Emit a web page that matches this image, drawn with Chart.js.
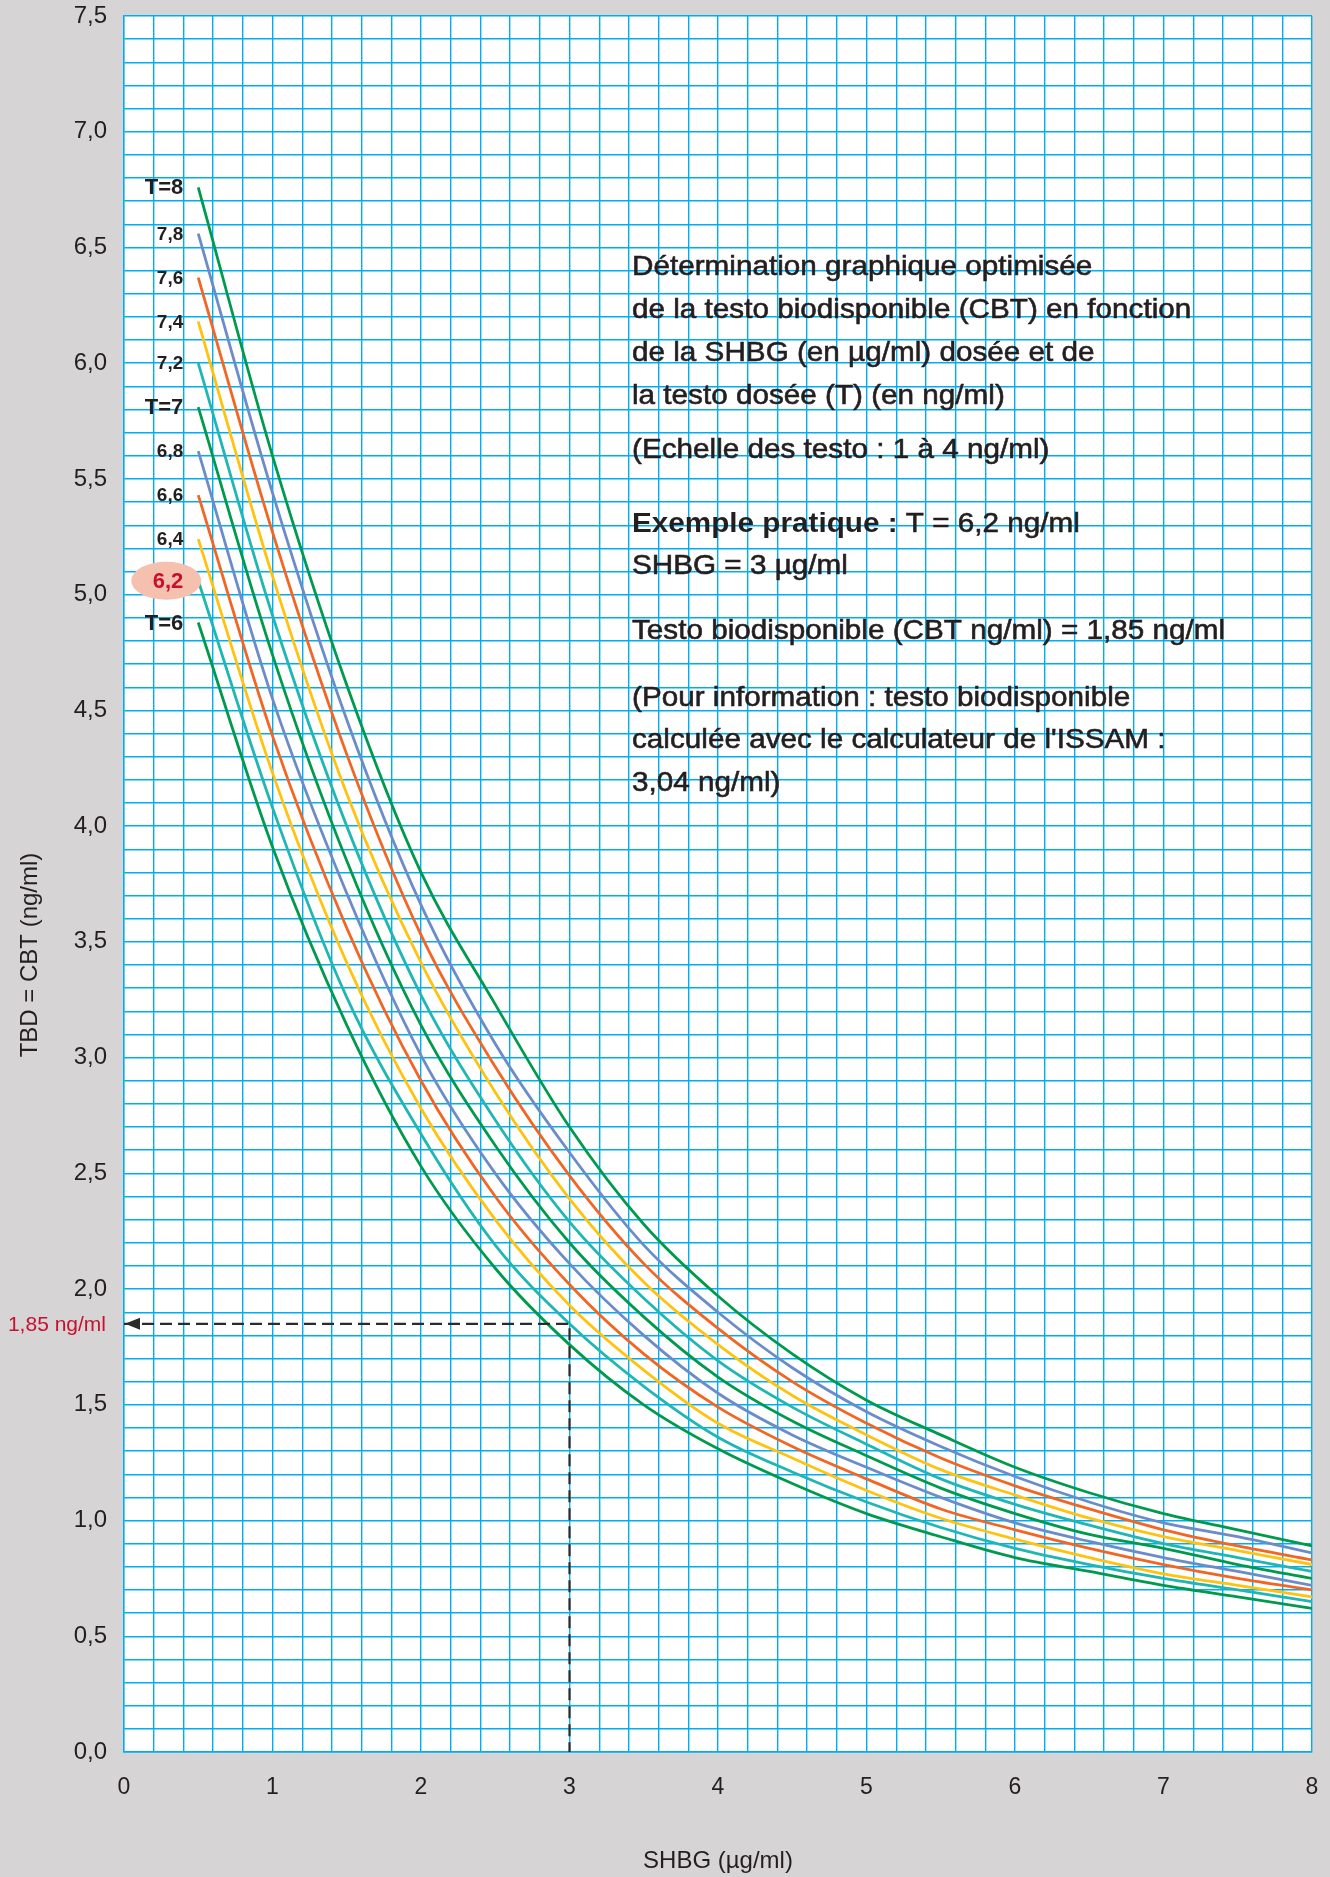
<!DOCTYPE html>
<html lang="fr">
<head>
    <meta charset="UTF-8">
    <title>Testo biodisponible en fonction de la SHBG</title>
    <script src="https://cdn.jsdelivr.net/npm/chart.js@4.4.0/dist/chart.umd.min.js"></script>
    <style>
        html, body {
            margin: 0;
            padding: 0;
            background: #d6d4d5;
        }

        #wrap {
            width: 1330px;
            height: 1877px;
        }
    </style>
</head>
<body>

<div id="wrap"><canvas id="cbtChart" width="1330" height="1877"></canvas></div>

<script>
    // SHBG (ug/ml) sample points, shared by every curve
    var shbgValues = [0.5, 1, 1.5, 2, 2.5, 3, 3.5, 4, 4.5, 5, 5.5, 6, 6.5, 7, 7.5, 8];

    // CBT (ng/ml), one array per total testo T
    var cbtT60 = [4.88, 3.91, 3.14, 2.53, 2.09, 1.76, 1.50, 1.31, 1.16, 1.03, 0.93, 0.84, 0.78, 0.72, 0.67, 0.62];
    var cbtT62 = [5.06, 4.08, 3.26, 2.67, 2.19, 1.85, 1.58, 1.36, 1.21, 1.08, 0.97, 0.88, 0.81, 0.75, 0.70, 0.65];
    var cbtT64 = [5.24, 4.23, 3.41, 2.78, 2.30, 1.93, 1.65, 1.42, 1.27, 1.13, 1.01, 0.92, 0.84, 0.77, 0.72, 0.67];
    var cbtT66 = [5.43, 4.39, 3.56, 2.90, 2.40, 2.02, 1.72, 1.49, 1.32, 1.18, 1.05, 0.96, 0.88, 0.81, 0.75, 0.70];
    var cbtT68 = [5.62, 4.55, 3.71, 3.01, 2.50, 2.11, 1.80, 1.55, 1.37, 1.23, 1.10, 0.99, 0.91, 0.84, 0.78, 0.72];
    var cbtT70 = [5.81, 4.74, 3.85, 3.14, 2.62, 2.20, 1.88, 1.62, 1.43, 1.28, 1.14, 1.03, 0.94, 0.88, 0.81, 0.75];
    var cbtT72 = [6.00, 4.91, 4.00, 3.27, 2.73, 2.29, 1.96, 1.69, 1.49, 1.33, 1.18, 1.07, 0.98, 0.90, 0.84, 0.78];
    var cbtT74 = [6.18, 5.08, 4.14, 3.41, 2.85, 2.39, 2.03, 1.76, 1.54, 1.37, 1.22, 1.11, 1.01, 0.93, 0.87, 0.81];
    var cbtT76 = [6.37, 5.27, 4.31, 3.53, 2.96, 2.49, 2.11, 1.83, 1.60, 1.42, 1.27, 1.15, 1.05, 0.96, 0.89, 0.83];
    var cbtT78 = [6.56, 5.44, 4.46, 3.66, 3.06, 2.59, 2.19, 1.90, 1.66, 1.47, 1.32, 1.19, 1.08, 0.99, 0.93, 0.86];
    var cbtT80 = [6.76, 5.60, 4.61, 3.80, 3.23, 2.70, 2.28, 1.97, 1.72, 1.52, 1.37, 1.23, 1.12, 1.03, 0.96, 0.89];

    var curveSeries = [cbtT60, cbtT62, cbtT64, cbtT66, cbtT68, cbtT70, cbtT72, cbtT74, cbtT76, cbtT78, cbtT80];
    var curveLabels = ['T=6', '6,2', '6,4', '6,6', '6,8', 'T=7', '7,2', '7,4', '7,6', '7,8', 'T=8'];
    var curveColors = ['#009a4e', '#20b6b4', '#ffc20e', '#f26522', '#6b8bc9',
                       '#009a4e', '#20b6b4', '#ffc20e', '#f26522', '#6b8bc9', '#009a4e'];

    // worked example
    var exampleLabel = '6,2';
    var exampleShbg = 3;
    var exampleCbt = 1.85;

    var gridBlue = '#00aeef';
    var ink = '#231f20';
    var red = '#c8102e';
    var fontFamily = '"Liberation Sans", Arial, Helvetica, sans-serif';

    var datasets = [];

    // dashed guide from the example point to both axes
    datasets.push({
        label: 'exemple',
        data: [{x: 0, y: exampleCbt}, {x: exampleShbg, y: exampleCbt}, {x: exampleShbg, y: 0}],
        borderColor: '#2b2b2b',
        borderWidth: 2.2,
        borderDash: [12, 6],
        pointRadius: 0,
        tension: 0,
        order: 0
    });

    for (var i = 0; i < curveSeries.length; i++) {
        var pts = [];
        for (var j = 0; j < shbgValues.length; j++) {
            pts.push({x: shbgValues[j], y: curveSeries[i][j]});
        }
        datasets.push({
            label: curveLabels[i],
            data: pts,
            borderColor: curveColors[i],
            borderWidth: 2.8,
            pointRadius: 0,
            cubicInterpolationMode: 'monotone',
            order: 1
        });
    }

    function commaNum(v, digits) {
        return v.toFixed(digits).replace('.', ',');
    }

    var backgroundPlugin = {
        id: 'paper',
        beforeDraw: function(chart) {
            var ctx = chart.ctx, a = chart.chartArea;
            ctx.save();
            ctx.fillStyle = '#d6d4d5';
            ctx.fillRect(0, 0, chart.width, chart.height);
            ctx.fillStyle = '#ffffff';
            ctx.fillRect(a.left, a.top, a.right - a.left, a.bottom - a.top);
            ctx.restore();
        }
    };

    // text is a little wider than Liberation Sans in the original
    function wideText(ctx, text, x, y, stroke) {
        ctx.save();
        ctx.translate(x, y);
        ctx.scale(1.06, 1);
        ctx.fillText(text, 0, 0);
        if (stroke) ctx.strokeText(text, 0, 0);
        ctx.restore();
        return ctx.measureText(text).width * 1.06;
    }

    var notesPlugin = {
        id: 'notes',
        afterDraw: function(chart) {
            var ctx = chart.ctx;
            var xs = chart.scales.x, ys = chart.scales.y;
            ctx.save();

            // curve labels at the start of each curve
            ctx.textAlign = 'right';
            ctx.textBaseline = 'middle';
            for (var k = 0; k < curveLabels.length; k++) {
                var meta = chart.getDatasetMeta(k + 1);
                var p = meta.data[0];
                var lbl = curveLabels[k];
                var size = lbl.indexOf('T=') === 0 ? 22 : 19;
                if (lbl === exampleLabel) {
                    ctx.fillStyle = '#f5c1ae';
                    ctx.beginPath();
                    ctx.ellipse(p.x - 32, p.y, 35, 19, 0, 0, Math.PI * 2);
                    ctx.fill();
                    ctx.fillStyle = red;
                    size = 22;
                } else {
                    ctx.fillStyle = ink;
                }
                ctx.font = 'bold ' + size + 'px ' + fontFamily;
                ctx.fillText(lbl, p.x - 15, p.y + 1);
            }

            // arrow head and red value on the y axis
            var ay = ys.getPixelForValue(exampleCbt);
            var ax = xs.getPixelForValue(0);
            ctx.fillStyle = '#2b2b2b';
            ctx.beginPath();
            ctx.moveTo(ax + 1, ay);
            ctx.lineTo(ax + 16, ay - 6);
            ctx.lineTo(ax + 16, ay + 6);
            ctx.closePath();
            ctx.fill();

            ctx.fillStyle = red;
            ctx.font = '21px ' + fontFamily;
            ctx.textAlign = 'right';
            ctx.fillText(commaNum(exampleCbt, 2) + ' ng/ml', ax - 18, ay + 1);

            // y axis title
            ctx.save();
            ctx.translate(30, 955);
            ctx.rotate(-Math.PI / 2);
            ctx.textAlign = 'center';
            ctx.fillStyle = ink;
            ctx.font = '24px ' + fontFamily;
            ctx.fillText('TBD = CBT (ng/ml)', 0, 0);
            ctx.restore();

            // explanation text block
            var tx = 632;
            var lines = [
                {t: 'Détermination graphique optimisée', y: 267},
                {t: 'de la testo biodisponible (CBT) en fonction', y: 310},
                {t: 'de la SHBG (en µg/ml) dosée et de', y: 353},
                {t: 'la testo dosée (T) (en ng/ml)', y: 396},
                {t: '(Echelle des testo : 1 à 4 ng/ml)', y: 450},
                {t: 'SHBG = 3 µg/ml', y: 566},
                {t: 'Testo biodisponible (CBT ng/ml) = 1,85 ng/ml', y: 631},
                {t: '(Pour information : testo biodisponible', y: 698},
                {t: 'calculée avec le calculateur de l\'ISSAM :', y: 740},
                {t: '3,04 ng/ml)', y: 783}
            ];
            ctx.textAlign = 'left';
            ctx.fillStyle = ink;
            ctx.strokeStyle = ink;
            ctx.lineWidth = 0.6;
            ctx.font = '28px ' + fontFamily;
            lines.forEach(function(l) {
                wideText(ctx, l.t, tx, l.y, true);
            });
            ctx.font = 'bold 28px ' + fontFamily;
            var w = wideText(ctx, 'Exemple pratique : ', tx, 524, false);
            ctx.font = '28px ' + fontFamily;
            wideText(ctx, 'T = 6,2 ng/ml', tx + w, 524, true);

            ctx.restore();
        }
    };

    var ctx = document.getElementById('cbtChart').getContext('2d');
    var cbtChart = new Chart(ctx, {
        type: 'line',
        data: { datasets: datasets },
        options: {
            responsive: false,
            animation: false,
            layout: { padding: { top: 16, right: 18, left: 0, bottom: 0 } },
            plugins: {
                legend: { display: false },
                tooltip: { enabled: false }
            },
            scales: {
                x: {
                    type: 'linear',
                    min: 0,
                    max: 8,
                    afterFit: function(s) {
                        s.height = 125;
                        s.paddingLeft = 0;
                        s.paddingRight = 0;
                    },
                    grid: { color: gridBlue, lineWidth: 1.4, drawTicks: false },
                    border: { color: gridBlue, width: 1.4 },
                    ticks: {
                        stepSize: 0.2,
                        autoSkip: false,
                        maxRotation: 0,
                        padding: 22,
                        color: ink,
                        font: { family: fontFamily, size: 23 },
                        callback: function(v) {
                            return Math.abs(v - Math.round(v)) < 1e-6 ? String(Math.round(v)) : '';
                        }
                    },
                    title: {
                        display: true,
                        text: 'SHBG (µg/ml)',
                        color: ink,
                        font: { family: fontFamily, size: 24 },
                        padding: { top: 0, bottom: 1 }
                    }
                },
                y: {
                    min: 0,
                    max: 7.5,
                    afterFit: function(s) {
                        s.width = 124;
                        s.paddingTop = 0;
                        s.paddingBottom = 0;
                    },
                    grid: { color: gridBlue, lineWidth: 1.4, drawTicks: false },
                    border: { color: gridBlue, width: 1.4 },
                    ticks: {
                        stepSize: 0.1,
                        autoSkip: false,
                        padding: 17,
                        color: ink,
                        font: { family: fontFamily, size: 24 },
                        callback: function(v) {
                            return Math.abs(v * 2 - Math.round(v * 2)) < 1e-6 ? commaNum(v, 1) : '';
                        }
                    }
                }
            }
        },
        plugins: [backgroundPlugin, notesPlugin]
    });
</script>

</body>
</html>
